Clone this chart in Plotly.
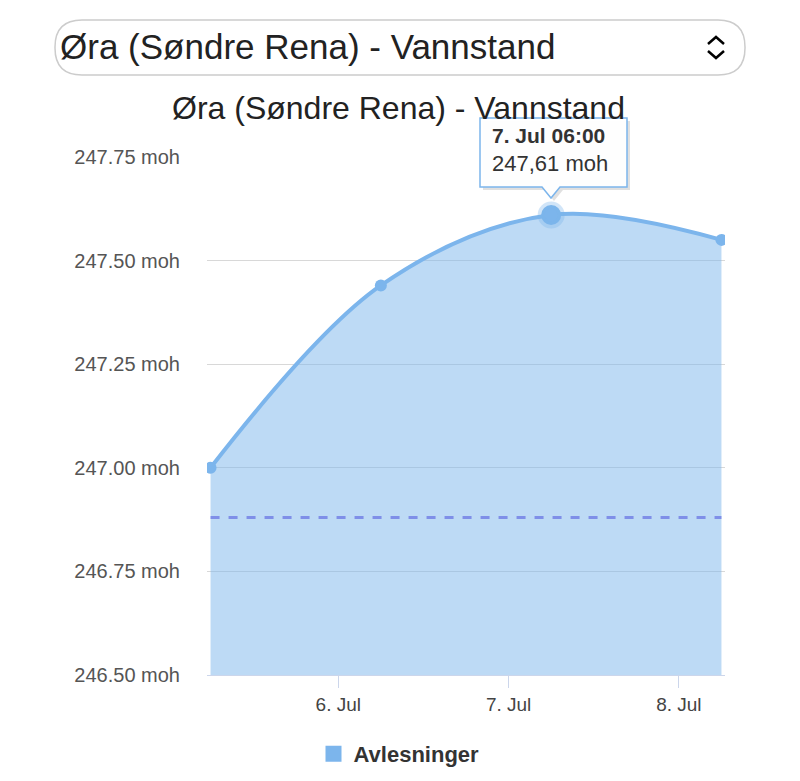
import plotly.graph_objects as go

dates = ["2024-07-05 06:00", "2024-07-06 06:00", "2024-07-07 06:00", "2024-07-08 06:00"]
levels = [247.00, 247.44, 247.61, 247.55]
ref_level = 246.88
tick_vals = ["2024-07-06", "2024-07-07", "2024-07-08"]
tick_text = ["6. Jul", "7. Jul", "8. Jul"]
y_ticks = [246.5, 246.75, 247.0, 247.25, 247.5, 247.75]
y_text = ["246.50 moh", "246.75 moh", "247.00 moh", "247.25 moh", "247.50 moh", "247.75 moh"]
title = "Øra (Søndre Rena) - Vannstand"

OFF = 8  # page body margin
L, T, W, H = 207, 157, 518, 518
def px(x): return (x - L) / W
def py(y): return (T + H - y) / H

def rrect(x0, y0, x1, y1, r):
    return (f"M{px(x0+r)},{py(y0)} L{px(x1-r)},{py(y0)} Q{px(x1)},{py(y0)} {px(x1)},{py(y0+r)} "
            f"L{px(x1)},{py(y1-r)} Q{px(x1)},{py(y1)} {px(x1-r)},{py(y1)} L{px(x0+r)},{py(y1)} "
            f"Q{px(x0)},{py(y1)} {px(x0)},{py(y1-r)} L{px(x0)},{py(y0+r)} Q{px(x0)},{py(y0)} {px(x0+r)},{py(y0)} Z")

fig = go.Figure()
fig.add_trace(go.Scatter(x=dates, y=levels, mode="lines+markers", line=dict(color="#7cb5ec", width=4, shape="spline"),
                         marker=dict(size=12, color="#7cb5ec"), fill="tozeroy", fillcolor="rgba(124,181,236,0.5)",
                         showlegend=False, hoverinfo="skip"))
fig.add_trace(go.Scatter(x=[dates[0], dates[-1]], y=[ref_level, ref_level], mode="lines",
                         line=dict(color="#7f8fe8", width=3, dash="dash"), showlegend=False, hoverinfo="skip"))
fig.add_trace(go.Scatter(x=[dates[2]], y=[levels[2]], mode="markers",
                         marker=dict(size=20, color="#7cb5ec", line=dict(color="rgba(124,181,236,0.35)", width=7)),
                         showlegend=False, hoverinfo="skip"))
fig.add_trace(go.Scatter(x=[None], y=[None], mode="markers", name="Avlesninger",
                         marker=dict(symbol="square", size=26, color="#7cb5ec")))

shapes = [
    dict(type="path", xref="paper", yref="paper", path=rrect(55, 20, 745, 75, 27),
         line=dict(color="#cccccc", width=1.5), fillcolor="white"),
    dict(type="path", xref="paper", yref="paper",
         path=f"M{px(708)},{py(44)} L{px(716)},{py(37)} L{px(724)},{py(44)}", line=dict(color="black", width=2.5)),
    dict(type="path", xref="paper", yref="paper",
         path=f"M{px(708)},{py(51)} L{px(716)},{py(58)} L{px(724)},{py(51)}", line=dict(color="black", width=2.5)),
    dict(type="path", xref="paper", yref="paper", layer="above",
         path=(f"M{px(483)},{py(121)} L{px(630)},{py(121)} L{px(630)},{py(190)} L{px(563)},{py(190)} "
               f"L{px(554)},{py(201)} L{px(545)},{py(190)} L{px(483)},{py(190)} Z"),
         line=dict(width=0), fillcolor="rgba(0,0,0,0.12)"),
    dict(type="path", xref="paper", yref="paper", layer="above",
         path=(f"M{px(480)},{py(118)} L{px(627)},{py(118)} L{px(627)},{py(187)} L{px(560)},{py(187)} "
               f"L{px(551)},{py(198)} L{px(542)},{py(187)} L{px(480)},{py(187)} Z"),
         line=dict(color="#7cb5ec", width=1.5), fillcolor="rgba(255,255,255,0.95)"),
]
ann = [
    dict(x=px(58), y=py(47), text=title, xanchor="left", font=dict(size=35, color="#222")),
    dict(x=px(398), y=py(108), text=title, font=dict(size=32, color="#222")),
    dict(x=px(490), y=py(135), text="<b>7. Jul 06:00</b>", xanchor="left", font=dict(size=21, color="#333")),
    dict(x=px(490), y=py(163), text="247,61 moh", xanchor="left", font=dict(size=22, color="#333")),
]
for a in ann:
    a.update(xref="paper", yref="paper", showarrow=False, yanchor="middle")
fig.update_layout(
    width=800, height=781,
    margin=dict(l=L - OFF, r=800 - (L - OFF) - W, t=T - OFF, b=781 - (T - OFF) - H),
    plot_bgcolor="white", paper_bgcolor="white", shapes=shapes, annotations=ann,
    font=dict(family="Liberation Sans, Arial, sans-serif"),
    legend=dict(orientation="h", x=px(399), y=py(754), xanchor="center", yanchor="middle",
                font=dict(size=22, color="#333", weight="bold")),
    xaxis=dict(range=["2024-07-05 05:30", "2024-07-08 06:30"], tickvals=tick_vals, ticktext=tick_text,
               showgrid=False, showline=True, linecolor="#ccd6eb", ticks="outside", ticklen=12,
               tickcolor="#ccd6eb", tickfont=dict(size=19, color="#444")),
    yaxis=dict(range=[246.5, 247.75], tickvals=y_ticks, ticktext=y_text, gridcolor="#d8d8d8",
               zeroline=False, tickfont=dict(size=20, color="#555"), ticklabelstandoff=26),
)
fig.write_html("out.html")
